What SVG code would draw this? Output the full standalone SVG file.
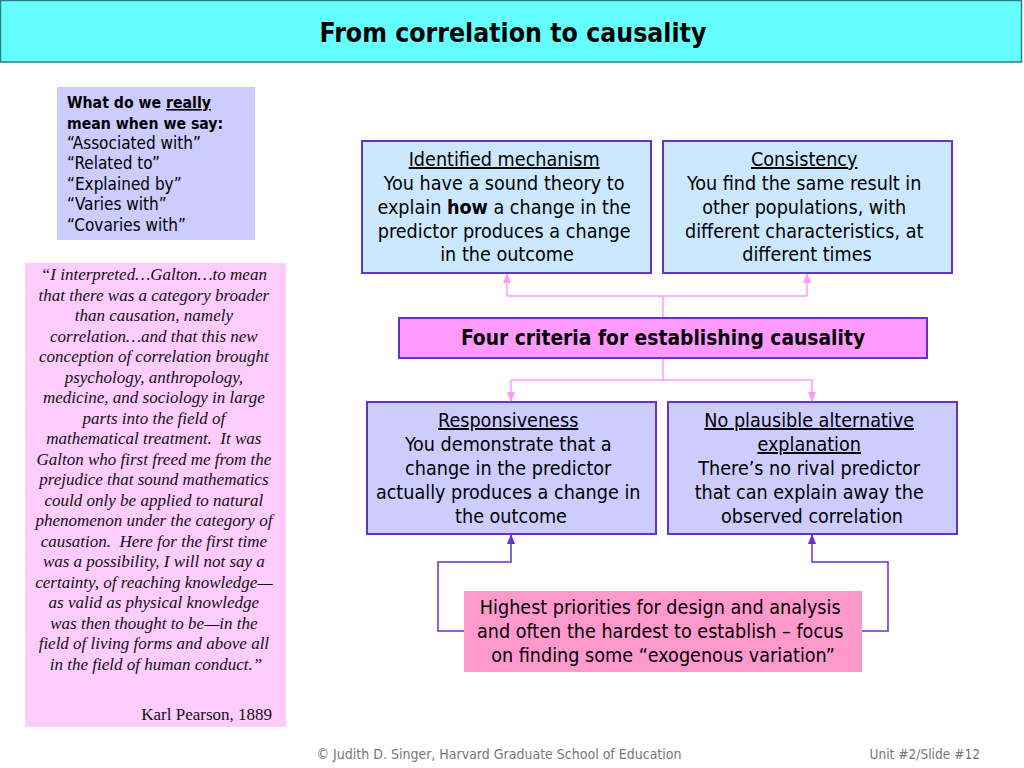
<svg xmlns="http://www.w3.org/2000/svg" width="1024" height="768" viewBox="0 0 1024 768">
<defs>
<style>
.s{font-family:"DejaVu Sans Condensed","DejaVu Sans",sans-serif;fill:#000}
.q{font-family:"Liberation Serif",serif;font-style:italic;font-size:17px;fill:#111;text-anchor:middle}
.box{stroke:#6633CC;stroke-width:2}
.pk{fill:none;stroke:#FF99FF;stroke-width:1.5}
.pu{fill:none;stroke:#6633CC;stroke-width:1.5}
.c{text-anchor:middle;font-size:19.6px}
.u{text-decoration:underline}
.f{font-size:14px;fill:#777}
</style>
<marker id="ap" viewBox="0 0 10 10" refX="9" refY="5" markerWidth="7" markerHeight="7" orient="auto"><path d="M0,1 L10,5 L0,9 z" fill="#FF99FF"/></marker>
<marker id="au" viewBox="0 0 10 10" refX="9" refY="5" markerWidth="7" markerHeight="7" orient="auto"><path d="M0,1 L10,5 L0,9 z" fill="#6633CC"/></marker>
</defs>
<rect width="1024" height="768" fill="#fff"/>
<g id="title">
<rect x="0.5" y="0.5" width="1021" height="61.5" fill="#66FFFF" stroke="#2F8080" stroke-width="1.5"/>
<text class="s" x="513" y="42" text-anchor="middle" font-size="26.4" font-weight="bold">From correlation to causality</text>
</g>
<g id="meaning">
<rect x="57" y="87" width="198" height="153" fill="#CCCCFF"/>
<text class="s" font-size="17">
<tspan x="67" y="108" font-weight="bold" font-size="15.7">What do we <tspan class="u">really</tspan></tspan>
<tspan x="67" y="129" font-weight="bold" font-size="15.7">mean when we say:</tspan>
<tspan x="67" y="149">“Associated with”</tspan>
<tspan x="67" y="169">“Related to”</tspan>
<tspan x="67" y="190">“Explained by”</tspan>
<tspan x="67" y="210">“Varies with”</tspan>
<tspan x="67" y="231">“Covaries with”</tspan>
</text>
</g>
<g id="quote">
<rect x="25" y="263" width="261" height="464" fill="#FFCCFF"/>
<text class="q">
<tspan x="156" y="280">“I interpreted…Galton…to mean</tspan>
<tspan x="156" y="300.5">that there was a category broader</tspan>
<tspan x="156" y="321">than causation, namely</tspan>
<tspan x="156" y="341.5">correlation…and that this new</tspan>
<tspan x="156" y="362">conception of correlation brought</tspan>
<tspan x="156" y="382.5">psychology, anthropology,</tspan>
<tspan x="156" y="403">medicine, and sociology in large</tspan>
<tspan x="156" y="423.5">parts into the field of</tspan>
<tspan x="156" y="444">mathematical treatment.&#160; It was</tspan>
<tspan x="156" y="464.5">Galton who first freed me from the</tspan>
<tspan x="156" y="485">prejudice that sound mathematics</tspan>
<tspan x="156" y="505.5">could only be applied to natural</tspan>
<tspan x="156" y="526">phenomenon under the category of</tspan>
<tspan x="156" y="546.5">causation.&#160; Here for the first time</tspan>
<tspan x="156" y="567">was a possibility, I will not say a</tspan>
<tspan x="156" y="587.5">certainty, of reaching knowledge—</tspan>
<tspan x="156" y="608">as valid as physical knowledge</tspan>
<tspan x="156" y="628.5">was then thought to be—in the</tspan>
<tspan x="156" y="649">field of living forms and above all</tspan>
<tspan x="156" y="669.5">in the field of human conduct.”</tspan>
</text>
<text x="272" y="720" font-family="Liberation Serif,serif" font-size="17" text-anchor="end" fill="#111">Karl Pearson, 1889</text>
</g>
<g id="connectors">
<path class="pk" d="M663,318 V296 M507,296 H807"/>
<path class="pk" d="M507,296 V274" marker-end="url(#ap)"/>
<path class="pk" d="M807,296 V274" marker-end="url(#ap)"/>
<path class="pk" d="M663,358 V380 M511,380 H812"/>
<path class="pk" d="M511,380 V401" marker-end="url(#ap)"/>
<path class="pk" d="M812,380 V401" marker-end="url(#ap)"/>
<path class="pu" d="M464,631 H438 V562 H511 V535" marker-end="url(#au)"/>
<path class="pu" d="M862,631 H888 V562 H812 V535" marker-end="url(#au)"/>
</g>
<g id="mechanism">
<rect class="box" x="362" y="141" width="289" height="132" fill="#CCE8FF"/>
<text class="s c">
<tspan x="507" y="166" class="u">Identified mechanism</tspan>
<tspan x="507" y="190">You have a sound theory to</tspan>
<tspan x="507" y="214">explain <tspan font-weight="bold">how</tspan> a change in the</tspan>
<tspan x="507" y="238">predictor produces a change</tspan>
<tspan x="507" y="261">in the outcome</tspan>
</text>
</g>
<g id="consistency">
<rect class="box" x="663" y="141" width="289" height="132" fill="#CCE8FF"/>
<text class="s c">
<tspan x="807" y="166" class="u">Consistency</tspan>
<tspan x="807" y="190">You find the same result in</tspan>
<tspan x="807" y="214">other populations, with</tspan>
<tspan x="807" y="238">different characteristics, at</tspan>
<tspan x="807" y="261">different times</tspan>
</text>
</g>
<g id="criteria">
<rect class="box" x="399" y="318" width="528" height="40" fill="#FF99FF"/>
<text class="s" x="663" y="345" text-anchor="middle" font-size="20.8" font-weight="bold">Four criteria for establishing causality</text>
</g>
<g id="responsiveness">
<rect class="box" x="367" y="402" width="289" height="132" fill="#CCCCFF"/>
<text class="s c">
<tspan x="511" y="427" class="u">Responsiveness</tspan>
<tspan x="511" y="451">You demonstrate that a</tspan>
<tspan x="511" y="475">change in the predictor</tspan>
<tspan x="511" y="499">actually produces a change in</tspan>
<tspan x="511" y="523">the outcome</tspan>
</text>
</g>
<g id="alternative">
<rect class="box" x="668" y="402" width="289" height="132" fill="#CCCCFF"/>
<text class="s c">
<tspan x="812" y="427" class="u">No plausible alternative</tspan>
<tspan x="812" y="451" class="u">explanation</tspan>
<tspan x="812" y="475">There’s no rival predictor</tspan>
<tspan x="812" y="499">that can explain away the</tspan>
<tspan x="812" y="523">observed correlation</tspan>
</text>
</g>
<g id="priorities">
<rect x="464" y="591" width="398" height="81" fill="#FF99CC"/>
<text class="s c">
<tspan x="663" y="614">Highest priorities for design and analysis</tspan>
<tspan x="663" y="638">and often the hardest to establish – focus</tspan>
<tspan x="663" y="662">on finding some “exogenous variation”</tspan>
</text>
</g>
<g id="footer">
<text class="s f" x="499" y="759" text-anchor="middle" style="fill:#777">© Judith D. Singer, Harvard Graduate School of Education</text>
<text class="s f" x="980" y="759" text-anchor="end" style="fill:#777;font-size:13.6px">Unit #2/Slide #12</text>
</g>
</svg>
